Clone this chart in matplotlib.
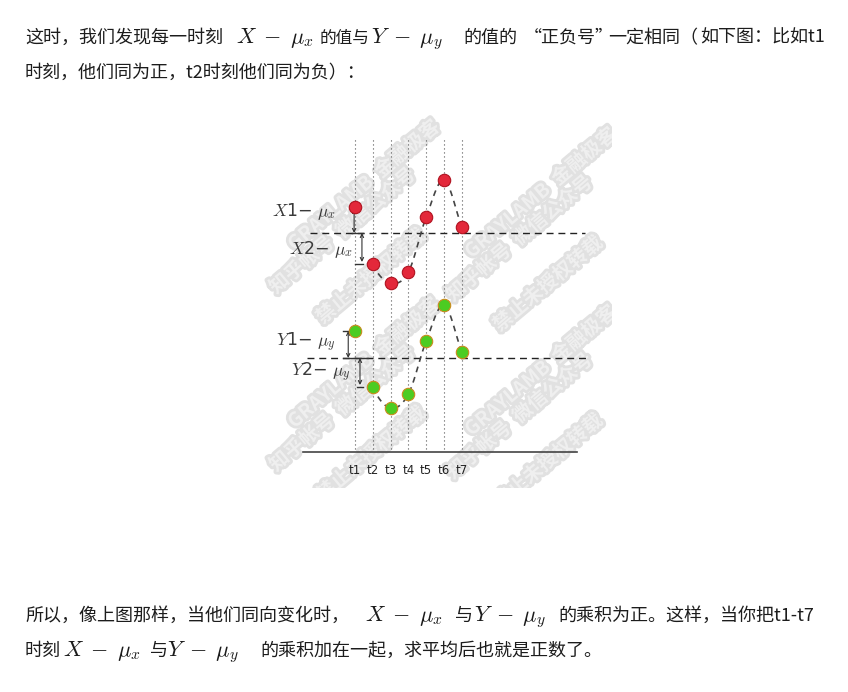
import numpy as np
import matplotlib.pyplot as plt
from matplotlib.patheffects import withStroke

plt.rcParams['font.family'] = ['Noto Sans CJK SC', 'DejaVu Sans']
plt.rcParams['mathtext.fontset'] = 'cm'

# chart values (arbitrary units, baseline of the sketch = 0)
times = np.arange(1, 8)
time_labels = ['t1', 't2', 't3', 't4', 't5', 't6', 't7']
x_vals = [24.5, 18.8, 16.9, 18.0, 23.5, 27.2, 22.5]
y_vals = [12.1, 6.5, 4.4, 5.8, 11.1, 14.7, 10.0]
mu_x = 21.9
mu_y = 9.4

W, H = 848, 692
fig = plt.figure(figsize=(W / 100, H / 100), dpi=100)
TXT = '#1c1c1c'
XM = r'$X\;-\;\mu_x$'
YM = r'$Y\;-\;\mu_y$'


def ptxt(x, y, s, size=13, **kw):
    # paragraph text placed in page pixels (baseline)
    fig.text(x / W, 1 - y / H, s, fontsize=size, color=TXT, ha='left', va='baseline', **kw)


def smooth(xs, ys, n=24):
    # catmull-rom curve through the points, like the hand drawn dashed line
    p = np.column_stack([xs, ys]).astype(float)
    p = np.vstack([2 * p[0] - p[1], p, 2 * p[-1] - p[-2]])
    out = []
    for i in range(1, len(p) - 2):
        s = np.linspace(0, 1, n, endpoint=False)[:, None]
        p0, p1, p2, p3 = p[i - 1], p[i], p[i + 1], p[i + 2]
        out.append(0.5 * (2 * p1 + (-p0 + p2) * s + (2 * p0 - 5 * p1 + 4 * p2 - p3) * s ** 2
                          + (-p0 + 3 * p1 - 3 * p2 + p3) * s ** 3))
    out.append(p[-2][None])
    return np.vstack(out)


# ---- text above the picture
ptxt(25, 43, '这时，我们发现每一时刻')
ptxt(236, 43, XM, size=16)
ptxt(320, 43, '的值与', size=12)
ptxt(371, 43, YM, size=16)
ptxt(463, 43, '的值的')
ptxt(524, 43, '“正负号”')
ptxt(608, 43, '一定相同（')
ptxt(700, 43, '如下图：比如t1')
ptxt(25, 78, '时刻，他们同为正，t2时刻他们同为负）：')

# ---- text below the picture
ptxt(25, 621, '所以，像上图那样，当他们同向变化时，')
ptxt(365, 621, XM, size=16)
ptxt(455, 621, '与')
ptxt(474, 621, YM, size=16)
ptxt(558, 621, '的乘积为正。这样，当你把t1-t7')
ptxt(25, 656, '时刻')
ptxt(63, 656, XM, size=16)
ptxt(150, 656, '与')
ptxt(167, 656, YM, size=16)
ptxt(260, 656, '的乘积加在一起，求平均后也就是正数了。')

# ---- the picture
L, R, T, B = 258, 612, 110, 488
ax = fig.add_axes([L / W, 1 - B / H, (R - L) / W, (B - T) / H])
step = 17.8
ax.set_xlim(1 + (L - 355) / step, 1 + (R - 355) / step)
ax.set_ylim((452 - B) / 10, (452 - T) / 10)
ax.axis('off')

# watermark
wm_lines = [('GRAYLAMB  金融极客', 0.0, 0.0),
            ('知乎帐号  微信公众号', -0.06, -0.12),
            ('禁止未授权转载', 0.02, -0.24)]
for ox, oy in [(0.30, 0.80), (0.80, 0.78), (0.30, 0.33), (0.80, 0.31)]:
    for s, dx, dy in wm_lines:
        ax.text(ox + dx, oy + dy, s, transform=ax.transAxes, rotation=40,
                ha='center', va='center', fontsize=14, fontweight='bold',
                color='#efefef', zorder=0, clip_on=True,
                path_effects=[withStroke(linewidth=4, foreground='#e1e1e1')])

# vertical dotted guides
ax.vlines(times, 0.3, 31.3, colors='#555555', linestyles=(0, (1, 2.6)), lw=0.8, zorder=1)

# baseline and means
ax.plot([-1.92, 13.47], [0, 0], color='#444444', lw=1.2, zorder=1)
ax.plot([-1.53, 13.92], [mu_x, mu_x], color='#222222', lw=1.0, ls=(0, (5, 3.5)), zorder=1)
ax.plot([-1.70, 14.2], [mu_y, mu_y], color='#222222', lw=1.0, ls=(0, (5, 3.5)), zorder=1)

# dashed curves (start at t2)
for vals in (x_vals, y_vals):
    c = smooth(times, vals)[24:]
    ax.plot(c[:, 0], c[:, 1], color='#444444', lw=1.2, ls=(0, (3.5, 3)), zorder=2)

ax.scatter(times, x_vals, s=80, c='#e3283a', edgecolors='#b0121f', linewidths=0.8, zorder=5)
ax.scatter(times, y_vals, s=80, c='#4ccc22', edgecolors='#c98a1c', linewidths=0.8, zorder=5)

# deviation arrows
arw = dict(arrowstyle='<->', lw=0.8, color='#333333', mutation_scale=6, shrinkA=0, shrinkB=0)
ax.annotate('', xy=(0.95, x_vals[0] - 0.2), xytext=(0.95, mu_x), arrowprops=arw, zorder=4)
ax.annotate('', xy=(1.39, mu_x), xytext=(1.39, x_vals[1] + 0.2), arrowprops=arw, zorder=4)
ax.annotate('', xy=(0.62, y_vals[0]), xytext=(0.62, mu_y), arrowprops=arw, zorder=4)
ax.annotate('', xy=(1.28, mu_y), xytext=(1.28, y_vals[1] + 0.2), arrowprops=arw, zorder=4)
ax.plot([0.83, 1.45], [mu_x, mu_x], color='#333333', lw=1.0, zorder=4)
ax.plot([1.0, 1.45], [x_vals[1], x_vals[1]], color='#333333', lw=1.0, zorder=4)
ax.plot([0.33, 1.73], [mu_y, mu_y], color='#333333', lw=1.0, zorder=4)
ax.plot([0.33, 0.83], [y_vals[0], y_vals[0]], color='#333333', lw=1.0, zorder=4)
ax.plot([1.1, 1.45], [y_vals[1], y_vals[1]], color='#333333', lw=1.0, zorder=4)

lab = dict(fontsize=12.5, color='#3a3a3a', ha='left', va='center', family='DejaVu Sans', zorder=6)
ax.text(-3.65, 24.0, r'$X$1− $\mu_x$', **lab)
ax.text(-2.7, 20.3, r'$X$2− $\mu_x$', **lab)
ax.text(-3.42, 11.0, r'$Y$1− $\mu_y$', **lab)
ax.text(-2.6, 8.0, r'$Y$2− $\mu_y$', **lab)

for t, s in zip(times, time_labels):
    ax.text(t, -1.8, s, fontsize=8.5, color='#222222', ha='center', va='center', family='DejaVu Sans')

fig.savefig('out.png', dpi=100)
